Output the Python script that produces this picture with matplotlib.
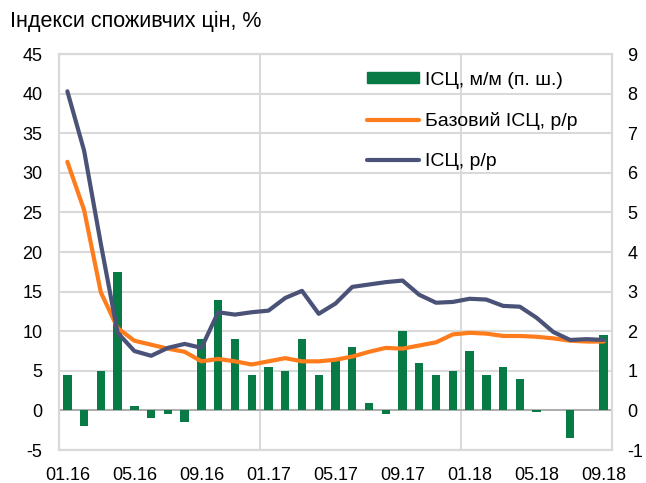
import numpy as np
import matplotlib.pyplot as plt
from matplotlib.patches import Patch
from matplotlib.lines import Line2D

plt.rcParams['font.family'] = ['Liberation Sans', 'DejaVu Sans']
plt.rcParams['axes.unicode_minus'] = False

# monthly data 01.16 - 09.18
months = ['01.16', '02.16', '03.16', '04.16', '05.16', '06.16', '07.16', '08.16',
          '09.16', '10.16', '11.16', '12.16', '01.17', '02.17', '03.17', '04.17',
          '05.17', '06.17', '07.17', '08.17', '09.17', '10.17', '11.17', '12.17',
          '01.18', '02.18', '03.18', '04.18', '05.18', '06.18', '07.18', '08.18',
          '09.18']
cpi_mm = [0.9, -0.4, 1.0, 3.5, 0.1, -0.2, -0.1, -0.3, 1.8, 2.8, 1.8, 0.9,
          1.1, 1.0, 1.8, 0.9, 1.3, 1.6, 0.2, -0.1, 2.0, 1.2, 0.9, 1.0,
          1.5, 0.9, 1.1, 0.8, -0.03, 0.0, -0.7, 0.0, 1.9]
core_yy = [31.4, 25.3, 14.9, 10.4, 8.8, 8.3, 7.8, 7.4, 6.2, 6.5, 6.2, 5.8,
           6.2, 6.6, 6.2, 6.2, 6.4, 6.8, 7.4, 7.9, 7.8, 8.2, 8.6, 9.6,
           9.8, 9.7, 9.4, 9.4, 9.3, 9.1, 8.8, 8.7, 8.7]
cpi_yy = [40.3, 32.8, 21.0, 9.8, 7.5, 6.9, 7.9, 8.4, 7.9, 12.4, 12.1, 12.4,
          12.6, 14.2, 15.1, 12.2, 13.5, 15.6, 15.9, 16.2, 16.4, 14.6, 13.6, 13.7,
          14.1, 14.0, 13.2, 13.1, 11.7, 9.9, 8.9, 9.0, 8.9]

green = '#087A45'
orange = '#FF7C1C'
navy = '#4A5277'
grid_c = '#D9D9D9'

x = np.arange(len(months))

fig = plt.figure(figsize=(6.46, 4.83), dpi=100)
ax2 = fig.add_axes([0.0913, 0.0683, 0.8561, 0.8197])  # right axis, bars
ax = ax2.twinx()  # left axis, lines (drawn on top)
ax.yaxis.tick_left()
ax2.yaxis.tick_right()

# bars on right axis
ax2.bar(x, cpi_mm, width=0.5, color=green, zorder=3)
ax2.set_ylim(-1, 9)
ax2.set_yticks(range(-1, 10))
ax2.grid(axis='y', color=grid_c, linewidth=1.5, zorder=0)
ax2.set_axisbelow(True)
for xv in [11.5, 23.5]:
    ax2.axvline(xv, color=grid_c, linewidth=1.5, zorder=0)
ax2.axhline(0, color='#A6A6A6', linewidth=1.2, zorder=2)

# lines on left axis
ax.plot(x, core_yy, color=orange, linewidth=3, solid_capstyle='round')
ax.plot(x, cpi_yy, color=navy, linewidth=3, solid_capstyle='round')
ax.set_ylim(-5, 45)
ax.set_yticks(range(-5, 50, 5))
ax.set_xlim(-0.5, len(months) - 0.5)
ax2.set_xlim(-0.5, len(months) - 0.5)
ax2.set_xticks(x[::4])
ax2.set_xticklabels(months[::4])

for a in (ax, ax2):
    for s in a.spines.values():
        s.set_color(grid_c)
        s.set_linewidth(1.5)
    a.tick_params(length=0, labelsize=13, colors='black')
ax.tick_params(axis='y', pad=12)
ax2.tick_params(axis='y', pad=11)
ax2.tick_params(axis='x', pad=12)

handles = [Patch(color=green),
           Line2D([], [], color=orange, linewidth=3, solid_capstyle='round'),
           Line2D([], [], color=navy, linewidth=3, solid_capstyle='round')]
labels = ['ІСЦ, м/м (п. ш.)', 'Базовий ІСЦ, р/р', 'ІСЦ, р/р']
ax.legend(handles, labels, loc='upper left', bbox_to_anchor=(0.525, 1.0),
          frameon=False, fontsize=14, handlelength=2.7, handleheight=0.5,
          handletextpad=0.3, labelspacing=1.2)

fig.text(0.016, 0.955, 'Індекси споживчих цін, %', fontsize=15.5, ha='left', va='center')

fig.savefig('out.png', dpi=100)
